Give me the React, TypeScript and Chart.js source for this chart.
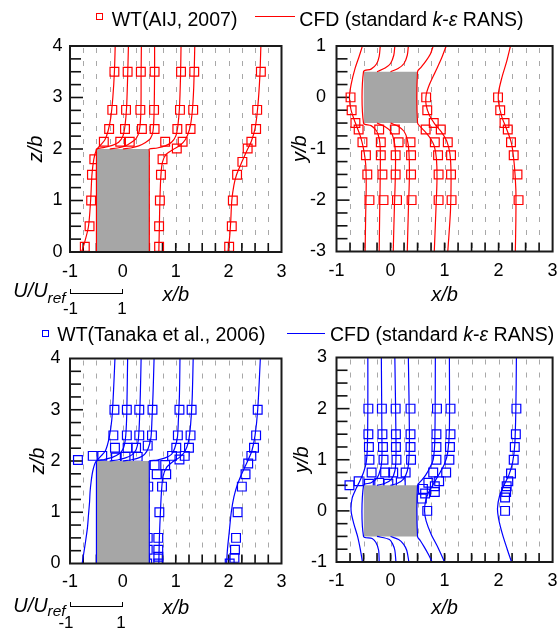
import React, { useEffect, useRef } from 'react';
import { Chart, registerables } from 'chart.js';

Chart.register(...registerables);

type Pt = [number, number];

const FONT = '"Liberation Sans", Arial, Helvetica, sans-serif';
const RED = '#ff0000';
const BLUE = '#0000ff';
const BUILDING = '#a6a6a6';

// x/b positions of the dashed reference lines
const gridSteps = [-0.75, -0.5, -0.25, 0, 0.25, 0.5, 0.75, 1, 1.25, 1.5, 1.75, 2, 2.25, 2.5, 2.75];

// ---------- Building outlines ----------
const buildingSide: Pt[] = [[-0.5, 2], [0.5, 2]];
const buildingSideBase = 0;
const buildingPlan: Pt[] = [[-0.5, 0.5], [0.5, 0.5]];
const buildingPlanBase = -0.5;

// ---------- AIJ 2007, vertical section (x/b, z/b) ----------
const aijSideWT: Pt[] = [
  [-0.72, 0.1], [-0.63, 0.5], [-0.6, 1.0], [-0.585, 1.5], [-0.54, 1.8], [-0.36, 2.14], [-0.26, 2.39], [-0.2, 2.76], [-0.16, 3.5],
  [-0.05, 2.14], [0.04, 2.39], [0.06, 2.76], [0.09, 3.5],
  [0.13, 2.14], [0.36, 2.39], [0.33, 2.76], [0.34, 3.5],
  [0.6, 2.39], [0.59, 2.76], [0.6, 3.5],
  [0.8, 2.14], [1.03, 2.39], [1.08, 2.76], [1.1, 3.5],
  [0.685, 0.1], [0.685, 0.5], [0.7, 1.0], [0.72, 1.5], [0.75, 1.8], [1.02, 2.01], [1.13, 2.14], [1.28, 2.39], [1.33, 2.76], [1.35, 3.5],
  [2.01, 0.1], [2.06, 0.5], [2.08, 1.0], [2.16, 1.5], [2.26, 1.75], [2.36, 2.01], [2.43, 2.14], [2.52, 2.39], [2.54, 2.76], [2.61, 3.5],
];
const aijSideCFD: Pt[][] = [
  [[-0.78, 0], [-0.72, 0.2], [-0.65, 0.5], [-0.61, 1.0], [-0.585, 1.5], [-0.55, 1.8], [-0.5, 1.98], [-0.42, 2.08], [-0.34, 2.18], [-0.28, 2.35], [-0.23, 2.6], [-0.19, 3.0], [-0.16, 3.5], [-0.145, 4.0]],
  [[-0.5, 0], [-0.5, 1.95], [-0.5, 2.0], [-0.35, 2.03], [-0.2, 2.07], [-0.08, 2.13], [0.0, 2.25], [0.04, 2.45], [0.07, 2.8], [0.09, 3.4], [0.105, 4.0]],
  [[-0.25, 2.0], [-0.1, 2.02], [0.05, 2.06], [0.15, 2.12], [0.25, 2.2], [0.31, 2.35], [0.34, 2.7], [0.345, 3.5], [0.35, 4.0]],
  [[0, 2.0], [0.15, 2.02], [0.3, 2.06], [0.42, 2.12], [0.52, 2.2], [0.57, 2.35], [0.59, 2.7], [0.6, 3.5], [0.6, 4.0]],
  [[0.5, 0], [0.5, 1.95], [0.5, 2.0], [0.65, 2.02], [0.8, 2.06], [0.92, 2.13], [1.0, 2.25], [1.04, 2.45], [1.07, 2.8], [1.09, 3.4], [1.1, 4.0]],
  [[0.68, 0], [0.69, 0.5], [0.7, 1.0], [0.72, 1.5], [0.75, 1.75], [0.82, 1.9], [0.95, 1.99], [1.08, 2.07], [1.18, 2.18], [1.26, 2.38], [1.31, 2.7], [1.34, 3.2], [1.36, 4.0]],
  [[1.99, 0], [2.02, 0.3], [2.04, 0.6], [2.06, 1.0], [2.1, 1.3], [2.15, 1.5], [2.26, 1.77], [2.36, 2.0], [2.43, 2.15], [2.5, 2.4], [2.55, 2.8], [2.59, 3.4], [2.61, 4.0]],
];

// ---------- AIJ 2007, horizontal section (x/b, y/b) ----------
const aijPlanWT: Pt[] = [
  [-0.74, 0], [-0.72, -0.25], [-0.65, -0.5], [-0.59, -0.625], [-0.52, -0.875], [-0.455, -1.125], [-0.43, -1.5], [-0.39, -2],
  [-0.21, -0.625], [-0.18, -0.875], [-0.18, -1.125], [-0.15, -1.5], [-0.13, -2],
  [0.08, -0.625], [0.15, -0.875], [0.095, -1.125], [0.095, -1.5], [0.12, -2],
  [0.37, -0.875], [0.38, -1.125], [0.38, -1.5], [0.39, -2],
  [0.65, -0.625], [0.82, -0.875], [0.88, -1.125], [0.89, -1.5], [0.89, -2],
  [0.66, 0], [0.68, -0.25], [0.8, -0.5], [0.93, -0.625], [1.06, -0.875], [1.12, -1.125], [1.12, -1.5], [1.13, -2],
  [1.99, 0], [2.03, -0.25], [2.11, -0.5], [2.17, -0.625], [2.23, -0.875], [2.28, -1.125], [2.35, -1.5], [2.37, -2],
];
const aijPlanCFD: Pt[][] = [
  [[-0.52, 1], [-0.58, 0.8], [-0.66, 0.55], [-0.73, 0.25], [-0.76, 0], [-0.73, -0.25], [-0.65, -0.5], [-0.56, -0.75], [-0.5, -1.0], [-0.46, -1.3], [-0.45, -1.7], [-0.46, -2.3], [-0.47, -3]],
  [[-0.19, 1], [-0.21, 0.8], [-0.26, 0.65], [-0.36, 0.55], [-0.5, 0.5], [-0.5, -0.5], [-0.36, -0.55], [-0.26, -0.65], [-0.21, -0.8], [-0.19, -1.0], [-0.19, -1.5], [-0.2, -2.2], [-0.21, -3]],
  [[0.08, 1], [0.06, 0.82], [0.0, 0.66], [-0.1, 0.57], [-0.25, 0.5]],
  [[-0.25, -0.5], [-0.1, -0.57], [0.0, -0.66], [0.06, -0.82], [0.09, -1.05], [0.09, -1.5], [0.07, -2.2], [0.05, -3]],
  [[0.33, 1], [0.31, 0.82], [0.25, 0.66], [0.14, 0.56], [0, 0.5]],
  [[0, -0.5], [0.14, -0.56], [0.25, -0.66], [0.31, -0.82], [0.34, -1.05], [0.35, -1.5], [0.33, -2.2], [0.31, -3]],
  [[0.79, 1], [0.74, 0.85], [0.65, 0.7], [0.56, 0.58], [0.5, 0.5], [0.5, -0.5], [0.56, -0.58], [0.65, -0.68], [0.74, -0.8], [0.81, -0.95], [0.85, -1.2], [0.86, -1.6], [0.84, -2.2], [0.81, -3]],
  [[1.03, 1], [0.94, 0.75], [0.83, 0.5], [0.72, 0.25], [0.66, 0.05], [0.66, -0.15], [0.72, -0.35], [0.82, -0.52], [0.94, -0.67], [1.04, -0.85], [1.1, -1.1], [1.12, -1.5], [1.11, -2.2], [1.06, -3]],
  [[2.22, 1], [2.15, 0.7], [2.06, 0.38], [2.0, 0.1], [2.0, -0.1], [2.06, -0.38], [2.15, -0.62], [2.24, -0.9], [2.29, -1.3], [2.32, -1.8], [2.32, -2.4], [2.31, -3]],
];

// ---------- Tanaka et al. 2006, vertical section ----------
const tanakaSideWT: Pt[] = [
  [-0.16, 3], [0.075, 3], [0.31, 3], [0.56, 3], [1.07, 3], [1.3, 3], [2.55, 3],
  [-0.18, 2.5], [0.075, 2.5], [0.31, 2.5], [0.55, 2.5], [1.04, 2.5], [1.28, 2.5], [2.52, 2.5],
  [-0.15, 2.26], [0.09, 2.26], [0.25, 2.26], [0.47, 2.3], [1.01, 2.26], [1.25, 2.26], [2.48, 2.26],
  [-0.57, 2.1], [-0.39, 2.1], [-0.13, 2.07], [0.05, 2.08], [0.28, 2.08], [0.93, 2.1], [1.17, 2.1], [2.43, 2.1],
  [-0.85, 2.02], [1.07, 2.03],
  [0.6, 1.92], [0.8, 1.92], [0.64, 1.74], [0.82, 1.74],
  [0.67, 0], [0.67, 0.13], [0.67, 0.27], [0.67, 0.5], [0.69, 1.0], [0.74, 1.5],
  [0.46, 0], [0.47, 0.27], [0.47, 0.5], [0.48, 1.5],
  [2.02, 0], [2.11, 0.11], [2.12, 0.27], [2.14, 0.5], [2.17, 1.0], [2.25, 1.5], [2.32, 1.74], [2.37, 1.95],
];
const tanakaSideCFD: Pt[][] = [
  [[-0.77, 0], [-0.74, 0.2], [-0.71, 0.4], [-0.67, 0.7], [-0.65, 0.95], [-0.63, 1.2], [-0.62, 1.4], [-0.6, 1.6], [-0.57, 1.8], [-0.52, 1.97], [-0.43, 2.08], [-0.33, 2.2], [-0.26, 2.45], [-0.21, 2.8], [-0.18, 3.3], [-0.15, 4.0]],
  [[-0.5, 0], [-0.5, 1.95], [-0.5, 2.0], [-0.35, 2.03], [-0.2, 2.07], [-0.07, 2.14], [0.01, 2.25], [0.05, 2.45], [0.07, 2.8], [0.08, 3.3], [0.09, 4.0]],
  [[-0.25, 2.0], [-0.1, 2.02], [0.05, 2.06], [0.17, 2.12], [0.25, 2.22], [0.29, 2.4], [0.31, 2.7], [0.33, 3.3], [0.345, 4.0]],
  [[0, 2.0], [0.15, 2.02], [0.3, 2.06], [0.41, 2.13], [0.48, 2.25], [0.53, 2.45], [0.55, 2.8], [0.57, 3.3], [0.59, 4.0]],
  [[0.5, 0], [0.5, 1.95], [0.5, 2.0], [0.65, 2.02], [0.8, 2.06], [0.92, 2.13], [0.98, 2.25], [1.03, 2.45], [1.05, 2.8], [1.07, 3.3], [1.08, 4.0]],
  [[0.68, 0], [0.69, 0.5], [0.71, 1.0], [0.73, 1.4], [0.76, 1.7], [0.83, 1.88], [0.95, 1.99], [1.07, 2.07], [1.17, 2.18], [1.24, 2.38], [1.28, 2.7], [1.31, 3.2], [1.33, 4.0]],
  [[1.96, 0], [1.98, 0.3], [2.01, 0.6], [2.05, 1.0], [2.1, 1.3], [2.17, 1.55], [2.27, 1.8], [2.36, 2.0], [2.44, 2.2], [2.5, 2.5], [2.55, 3.0], [2.6, 4.0]],
];

// ---------- Tanaka et al. 2006, horizontal section ----------
const tanakaPlanWT: Pt[] = [
  [-0.41, 2], [-0.16, 2], [0.095, 2], [0.37, 2], [0.86, 2], [1.11, 2], [2.33, 2],
  [-0.41, 1.5], [-0.15, 1.5], [0.1, 1.5], [0.37, 1.5], [0.85, 1.5], [1.11, 1.5], [2.32, 1.5],
  [-0.4, 1.25], [-0.14, 1.25], [0.1, 1.25], [0.37, 1.25], [0.85, 1.25], [1.1, 1.25], [2.3, 1.25],
  [-0.39, 1.0], [-0.13, 1.0], [0.11, 1.0], [0.38, 1.0], [0.85, 1.0], [1.09, 1.0], [2.28, 1.0],
  [-0.35, 0.75], [-0.1, 0.75], [0.05, 0.75], [0.28, 0.75], [0.79, 0.75], [1.03, 0.75], [2.23, 0.73],
  [-0.59, 0.58], [-0.4, 0.53], [-0.21, 0.55], [-0.04, 0.53], [0.19, 0.56], [0.7, 0.55], [0.9, 0.58], [2.18, 0.58],
  [-0.76, 0.5], [0.82, 0.48], [2.15, 0.48],
  [0.6, 0.43], [0.64, 0.34], [0.82, 0.37], [2.14, 0.37],
  [0.58, 0.24], [2.12, 0.26],
  [0.68, 0.0], [2.12, 0.0],
];
const tanakaPlanCFD: Pt[][] = [
  [[-0.52, -1], [-0.56, -0.75], [-0.61, -0.5], [-0.68, -0.25], [-0.73, 0.0], [-0.71, 0.25], [-0.63, 0.45], [-0.57, 0.58], [-0.5, 0.75], [-0.45, 0.95], [-0.43, 1.2], [-0.42, 2], [-0.42, 3]],
  [[-0.21, -1], [-0.22, -0.77], [-0.27, -0.62], [-0.34, -0.54], [-0.5, -0.5], [-0.5, 0.5], [-0.36, 0.55], [-0.25, 0.64], [-0.19, 0.8], [-0.16, 1.0], [-0.16, 1.5], [-0.17, 3]],
  [[0.1, -1], [0.08, -0.77], [0.04, -0.65], [-0.02, -0.56], [-0.25, -0.5]],
  [[-0.25, 0.5], [-0.1, 0.54], [0.02, 0.62], [0.08, 0.78], [0.1, 1.0], [0.1, 1.5], [0.08, 3]],
  [[0.34, -1], [0.3, -0.77], [0.24, -0.65], [0.15, -0.56], [0, -0.5]],
  [[0, 0.5], [0.13, 0.54], [0.24, 0.62], [0.31, 0.78], [0.34, 1.0], [0.35, 1.5], [0.33, 3]],
  [[0.77, -1], [0.7, -0.85], [0.62, -0.7], [0.55, -0.58], [0.5, -0.5], [0.5, 0.5], [0.56, 0.58], [0.65, 0.7], [0.73, 0.85], [0.79, 1.0], [0.82, 1.4], [0.83, 3]],
  [[1.0, -1], [0.88, -0.72], [0.75, -0.45], [0.66, -0.2], [0.63, 0.0], [0.65, 0.2], [0.7, 0.35], [0.78, 0.5], [0.9, 0.72], [1.0, 0.92], [1.06, 1.15], [1.09, 1.6], [1.09, 3]],
  [[2.24, -1], [2.16, -0.75], [2.07, -0.45], [2.0, -0.15], [1.98, 0.05], [2.02, 0.3], [2.1, 0.5], [2.19, 0.7], [2.26, 0.95], [2.3, 1.3], [2.32, 2], [2.33, 3]],
];

type Spec = {
  canvasTop: number; canvasH: number;
  left: number; right: number; top: number; bottom: number;
  padLeft: number;
  yMin: number; yMax: number; yTitle: string; yTitleX: number; yLabelPad: number;
  xLabelPad: number; xTitleY: number;
  wt: Pt[]; cfd: Pt[][]; building: Pt[]; buildingBase: number; color: string;
};

const panels: Spec[] = [
  { canvasTop: 0, canvasH: 320, left: 70, right: 281.5, top: 46, bottom: 252, padLeft: 0,
    yMin: 0, yMax: 4, yTitle: 'z/b', yTitleX: 36, yLabelPad: 7.5, xLabelPad: 9.2, xTitleY: 295,
    wt: aijSideWT, cfd: aijSideCFD, building: buildingSide, buildingBase: buildingSideBase, color: RED },
  { canvasTop: 0, canvasH: 320, left: 336.5, right: 553.5, top: 46, bottom: 251.5, padLeft: 280,
    yMin: -3, yMax: 1, yTitle: 'y/b', yTitleX: 300, yLabelPad: 10.5, xLabelPad: 8.9, xTitleY: 295,
    wt: aijPlanWT, cfd: aijPlanCFD, building: buildingPlan, buildingBase: buildingPlanBase, color: RED },
  { canvasTop: 320, canvasH: 309, left: 70, right: 281.5, top: 38.5, bottom: 243.5, padLeft: 0,
    yMin: 0, yMax: 4, yTitle: 'z/b', yTitleX: 38, yLabelPad: 9.5, xLabelPad: 7.4, xTitleY: 288.5,
    wt: tanakaSideWT, cfd: tanakaSideCFD, building: buildingSide, buildingBase: buildingSideBase, color: BLUE },
  { canvasTop: 320, canvasH: 309, left: 336.5, right: 553.5, top: 37.5, bottom: 242, padLeft: 280,
    yMin: -1, yMax: 3, yTitle: 'y/b', yTitleX: 302, yLabelPad: 9.5, xLabelPad: 8.4, xTitleY: 288.5,
    wt: tanakaPlanWT, cfd: tanakaPlanCFD, building: buildingPlan, buildingBase: buildingPlanBase, color: BLUE },
];

function makeFramePlugin(s: Spec) {
  return {
    id: 'frameAndGuides',
    beforeDatasetsDraw(chart: any) {
      const { ctx, chartArea: a, scales } = chart;
      const xs = scales.x;
      const ys = scales.y;
      ctx.save();
      ctx.strokeStyle = '#a8a8a8';
      ctx.lineWidth = 1;
      ctx.setLineDash([5, 8]);
      for (const v of gridSteps) {
        const px = Math.round(xs.getPixelForValue(v)) + 0.5;
        ctx.beginPath();
        ctx.moveTo(px, a.top + 2);
        ctx.lineTo(px, a.bottom);
        ctx.stroke();
      }
      ctx.setLineDash([]);
      ctx.strokeStyle = '#111';
      ctx.lineWidth = 1.6;
      for (const v of gridSteps) {
        const px = xs.getPixelForValue(v);
        ctx.beginPath();
        ctx.moveTo(px, a.bottom);
        ctx.lineTo(px, a.bottom - 9);
        ctx.stroke();
      }
      for (let v = s.yMin + 0.25; v < s.yMax - 0.01; v += 0.25) {
        const py = ys.getPixelForValue(v);
        const len = Math.abs(v - Math.round(v)) < 1e-6 ? 13 : 11;
        ctx.beginPath();
        ctx.moveTo(a.left, py);
        ctx.lineTo(a.left + len, py);
        ctx.stroke();
      }
      ctx.restore();
    },
    afterDatasetsDraw(chart: any) {
      const { ctx, chartArea: a } = chart;
      ctx.save();
      ctx.strokeStyle = '#1a1a1a';
      ctx.lineWidth = 2;
      ctx.strokeRect(a.left, a.top, a.right - a.left, a.bottom - a.top);
      ctx.restore();
    },
  };
}

function makeConfig(s: Spec): any {
  const toXY = (p: Pt[]) => p.map(([x, y]) => ({ x, y }));
  const datasets: any[] = [];
  datasets.push({
    type: 'scatter', label: 'WT', data: toXY(s.wt), showLine: false,
    pointStyle: 'rect', pointRadius: 6.2, pointHoverRadius: 6.2, pointBorderWidth: 1.2,
    pointBorderColor: s.color, pointBackgroundColor: 'rgba(0,0,0,0)',
    borderColor: s.color, backgroundColor: 'rgba(0,0,0,0)', order: 20,
  });
  datasets.push({
    type: 'line', label: 'building', data: toXY(s.building), fill: { value: s.buildingBase },
    backgroundColor: BUILDING, borderColor: 'rgba(0,0,0,0)', borderWidth: 0,
    pointRadius: 0, pointHoverRadius: 0, tension: 0, order: 10,
  });
  s.cfd.forEach((line, i) => {
    datasets.push({
      type: 'line', label: 'CFD ' + i, data: toXY(line), fill: false, showLine: true,
      borderColor: s.color, borderWidth: 1.2, pointRadius: 0, pointHoverRadius: 0,
      tension: 0.3, order: 5,
    });
  });
  const tickFont = { family: FONT, size: 18 };
  const titleFont = { family: FONT, size: 20, style: 'italic' };
  return {
    type: 'scatter',
    data: { datasets },
    options: {
      responsive: false, animation: false, devicePixelRatio: 1, events: [],
      layout: { padding: { left: s.padLeft, right: 560 - s.right, top: s.top, bottom: 0 } },
      plugins: { legend: { display: false }, tooltip: { enabled: false } },
      scales: {
        x: {
          type: 'linear', position: 'bottom', min: -1, max: 3,
          grid: { display: false, drawTicks: false }, border: { display: false },
          ticks: { stepSize: 1, color: '#000', font: tickFont, padding: s.xLabelPad, maxRotation: 0, autoSkip: false },
          title: { display: true, text: 'x/b', color: '#000', font: titleFont, padding: { top: 0, bottom: s.canvasH - s.xTitleY - 12 } },
          afterFit: (sc: any) => { sc.height = s.canvasH - s.bottom; sc.paddingLeft = 0; sc.paddingRight = 0; },
        },
        y: {
          type: 'linear', position: 'left', min: s.yMin, max: s.yMax,
          grid: { display: false, drawTicks: false }, border: { display: false },
          ticks: { stepSize: 1, color: '#000', font: tickFont, padding: s.yLabelPad, autoSkip: false },
          title: { display: true, text: s.yTitle, color: '#000', font: titleFont, padding: { top: s.yTitleX - s.padLeft - 12, bottom: 0 } },
          afterFit: (sc: any) => { sc.width = s.left - s.padLeft; sc.paddingTop = 0; sc.paddingBottom = 0; },
        },
      },
    },
    plugins: [makeFramePlugin(s)],
  };
}

function Panel({ spec }: { spec: Spec }) {
  const ref = useRef<HTMLCanvasElement>(null);
  useEffect(() => {
    const chart = new Chart(ref.current as HTMLCanvasElement, makeConfig(spec));
    return () => chart.destroy();
  }, [spec]);
  return (
    <canvas
      ref={ref}
      width={560}
      height={spec.canvasH}
      style={{ position: 'absolute', left: 0, top: spec.canvasTop, width: 560, height: spec.canvasH }}
    />
  );
}

function Txt(props: { x: number; base: number; size: number; italic?: boolean; center?: boolean; children: React.ReactNode }) {
  const { x, base, size, italic, center, children } = props;
  return (
    <span
      style={{
        position: 'absolute', left: x, top: base - 0.8465 * size, fontSize: size, lineHeight: `${size}px`,
        whiteSpace: 'nowrap', fontStyle: italic ? 'italic' : 'normal', color: '#000',
        transform: center ? 'translateX(-50%)' : undefined,
      }}
    >
      {children}
    </span>
  );
}

function Legend({ y, base, color, wtLabel, sqX, lineX1, lineX2, lineY, wtTextX, cfdTextX }: any) {
  return (
    <>
      <div style={{ position: 'absolute', left: sqX - 3.5, top: y - 3.5, width: 7, height: 7, boxSizing: 'border-box', border: `1.3px solid ${color}` }} />
      <Txt x={wtTextX} base={base} size={19.5}>{wtLabel}</Txt>
      <div style={{ position: 'absolute', left: lineX1, top: lineY - 0.65, width: lineX2 - lineX1, height: 0, borderTop: `1.3px solid ${color}` }} />
      <Txt x={cfdTextX} base={base} size={19.5}>CFD (standard <i>k</i>-<i>ε</i> RANS)</Txt>
    </>
  );
}

function ScaleBar({ textBase, subBase, barY, labelBase, minusX, plusX }: any) {
  return (
    <>
      <Txt x={13.3} base={textBase} size={20} italic>U/U</Txt>
      <Txt x={47.5} base={subBase} size={15.5} italic>ref</Txt>
      <div style={{ position: 'absolute', left: 70, top: barY - 4.3, width: 52.7, height: 5, boxSizing: 'border-box', borderLeft: '1.3px solid #000', borderRight: '1.3px solid #000', borderBottom: '1.3px solid #000' }} />
      <Txt x={minusX} base={labelBase} size={17} center>-1</Txt>
      <Txt x={plusX} base={labelBase} size={17} center>1</Txt>
    </>
  );
}

export default function App() {
  return (
    <div style={{ position: 'absolute', left: 0, top: 0, width: 560, height: 629, background: '#fff', overflow: 'hidden', fontFamily: FONT }}>
      {panels.map((p, i) => <Panel key={i} spec={p} />)}
      <Legend y={16.7} base={26.7} color={RED} wtLabel="WT(AIJ, 2007)" sqX={99.7} lineX1={255} lineX2={295} lineY={16.7} wtTextX={111.7} cfdTextX={299.3} />
      <Legend y={333.7} base={341.7} color={BLUE} wtLabel="WT(Tanaka et al., 2006)" sqX={45} lineX1={286.7} lineX2={325} lineY={333.3} wtTextX={57.3} cfdTextX={330} />
      <ScaleBar textBase={296.7} subBase={302.7} barY={293.3} labelBase={314} minusX={70.5} plusX={122} />
      <ScaleBar textBase={611.7} subBase={616.5} barY={606.7} labelBase={628.5} minusX={66} plusX={121} />
    </div>
  );
}
